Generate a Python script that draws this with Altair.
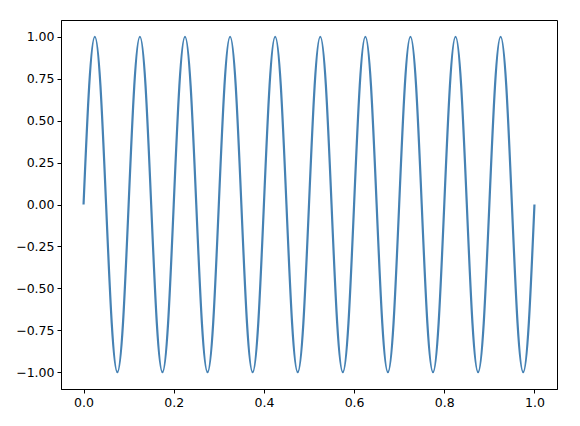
import altair as alt
import pandas as pd

t_values = [
    0.0, 0.0125, 0.025, 0.0375, 0.05, 0.0625, 0.075, 0.0875,
    0.1, 0.1125, 0.125, 0.1375, 0.15, 0.1625, 0.175, 0.1875,
    0.2, 0.2125, 0.225, 0.2375, 0.25, 0.2625, 0.275, 0.2875,
    0.3, 0.3125, 0.325, 0.3375, 0.35, 0.3625, 0.375, 0.3875,
    0.4, 0.4125, 0.425, 0.4375, 0.45, 0.4625, 0.475, 0.4875,
    0.5, 0.5125, 0.525, 0.5375, 0.55, 0.5625, 0.575, 0.5875,
    0.6, 0.6125, 0.625, 0.6375, 0.65, 0.6625, 0.675, 0.6875,
    0.7, 0.7125, 0.725, 0.7375, 0.75, 0.7625, 0.775, 0.7875,
    0.8, 0.8125, 0.825, 0.8375, 0.85, 0.8625, 0.875, 0.8875,
    0.9, 0.9125, 0.925, 0.9375, 0.95, 0.9625, 0.975, 0.9875,
    1.0,
]
signal_values = [
    0.0, 0.707, 1.0, 0.707, 0.0, -0.707, -1.0, -0.707,
    0.0, 0.707, 1.0, 0.707, 0.0, -0.707, -1.0, -0.707,
    0.0, 0.707, 1.0, 0.707, 0.0, -0.707, -1.0, -0.707,
    0.0, 0.707, 1.0, 0.707, 0.0, -0.707, -1.0, -0.707,
    0.0, 0.707, 1.0, 0.707, 0.0, -0.707, -1.0, -0.707,
    0.0, 0.707, 1.0, 0.707, 0.0, -0.707, -1.0, -0.707,
    0.0, 0.707, 1.0, 0.707, 0.0, -0.707, -1.0, -0.707,
    0.0, 0.707, 1.0, 0.707, 0.0, -0.707, -1.0, -0.707,
    0.0, 0.707, 1.0, 0.707, 0.0, -0.707, -1.0, -0.707,
    0.0, 0.707, 1.0, 0.707, 0.0, -0.707, -1.0, -0.707,
    0.0,
]
x_ticks = [0.0, 0.2, 0.4, 0.6, 0.8, 1.0]
y_ticks = [-1.0, -0.75, -0.5, -0.25, 0.0, 0.25, 0.5, 0.75, 1.0]

df = pd.DataFrame({"t": t_values, "v": signal_values})

axis_common = dict(
    grid=False,
    domainColor="black",
    tickColor="black",
    labelColor="black",
    labelFont="DejaVu Sans",
    labelFontSize=12.5,
    tickSize=4,
    labelPadding=3,
    title=None,
)

chart = alt.Chart(df).mark_line(
    color="#4682b4", strokeWidth=2.2, interpolate="natural", clip=True
).encode(
    x=alt.X("t:Q", scale=alt.Scale(domain=[-0.05, 1.05], nice=False, zero=False),
            axis=alt.Axis(values=x_ticks, format=".1f", **axis_common)),
    y=alt.Y("v:Q", scale=alt.Scale(domain=[-1.1, 1.1], nice=False, zero=False),
            axis=alt.Axis(values=y_ticks, format=".2f", **axis_common)),
).properties(
    width=496,
    height=369,
    autosize=alt.AutoSizeParams(type="none"),
    padding={"left": 53, "top": 12, "right": 15, "bottom": 30},
).configure_view(
    stroke="black", strokeWidth=1
)

chart.save("out.html", embed_options={"renderer": "svg", "actions": False})
